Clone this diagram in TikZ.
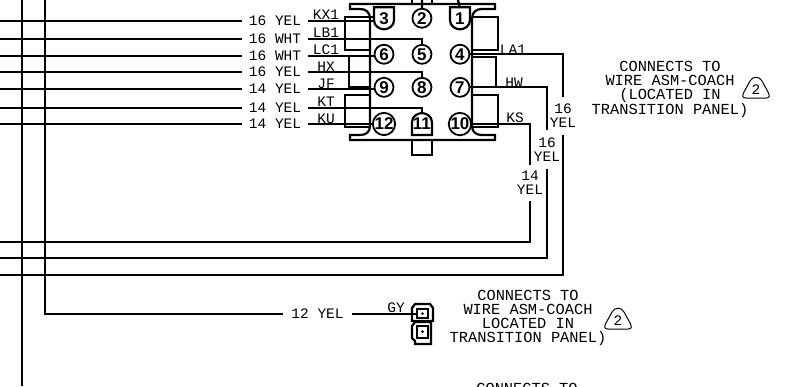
\documentclass[tikz,border=0pt]{standalone}
\usepackage{fontspec}
\setmainfont{Liberation Mono}
\newfontfamily\pinfont{Liberation Sans}
\usetikzlibrary{matrix}

\tikzset{
  wire/.style={line width=2pt},
  jumper/.style={line width=2.4pt},
  gauge/.style={inner sep=0pt, font=\fontsize{14.5}{14}\selectfont},
  wiretag/.style={inner sep=0pt, anchor=base, font=\fontsize{14.5}{14}\selectfont},
  note/.style={inner sep=0pt, align=center, font=\fontsize{15.35}{14}\selectfont},
  shell/.style={line width=2.2pt}
}

\begin{document}
\begin{tikzpicture}[x=1pt, y=-1pt]
\path[use as bounding box, clip] (0,0) rectangle (786,386);
\matrix (m) at (422,72) [matrix of nodes, inner sep=0pt, column sep=15.2pt,
  nodes={circle, draw, line width=1.8pt, minimum size=19pt, inner sep=0pt, font=\pinfont\bfseries\fontsize{17}{17}\selectfont}]{
|[draw=none]| 3 & 2 & |[draw=none]| 1 \\[15.2pt]
6 & 5 & 4 \\[12.2pt]
9 & 8 & 7 \\[14.2pt]
12 & |[draw=none]| 11 & 10 \\
};
% shells of the keyed pins
\draw[shell, shift={(m-1-1)}] (-10,-11) -- (10,-11) -- (10,2) .. controls (10,8) and (4,11) .. (0,11) .. controls (-4,11) and (-10,8) .. (-10,2) -- cycle;
\draw[shell, shift={(m-1-3)}] (-10,-11) -- (10,-11) -- (10,2) .. controls (10,8) and (4,11) .. (0,11) .. controls (-4,11) and (-10,8) .. (-10,2) -- cycle;
\draw[shell, shift={(m-4-2)}] (-10,11) -- (10,11) -- (10,-2) .. controls (10,-8) and (4,-11) .. (0,-11) .. controls (-4,-11) and (-10,-8) .. (-10,-2) -- cycle;
% connector body
\coordinate (bodyl) at (370,0);
\coordinate (bodyr) at (472,0);
\draw[shell] (412,0) -- (412,4) (432,0) -- (432,4);
\draw[shell] (422,0) -- (m-1-2.north);
\draw[shell] (458,0) -- (m-1-3.north);
\draw[shell] (360,135) .. controls (366,135) and (370,132) .. (370,126) -- (370,19) .. controls (370,12) and (366,9) .. (360,9) -- (350,9) -- (350,4) -- (495,4) -- (495,9) -- (482,9) .. controls (476,9) and (472,12) .. (472,19) -- (472,126) .. controls (472,132) and (476,135) .. (482,135) -- (495,135) -- (495,140) -- (350,140) -- (350,135) -- cycle;
\draw[shell] (412,140) -- (412,155) -- (432,155) -- (432,140);
% wires from the left
\foreach \n/\y/\txt in {1/21/16 YEL, 2/39/16 WHT, 3/56/16 WHT, 4/72/16 YEL, 5/89/14 YEL, 6/108/14 YEL, 7/124/14 YEL}{
  \coordinate (w\n) at (0,\y);
  \node[gauge, minimum width=66pt] (g\n) at (275,\y) {\txt};
  \draw[wire] (w\n) -- (g\n.west);
}
\draw[wire] (g1.east) -- (g1.east -| m-1-1.west);
\draw[wire] (g2.east) -| (m-2-2.north);
\draw[wire] (g3.east) -- (g3.east -| m-2-1.west);
\draw[wire] (g4.east) -| (m-3-2.north);
\draw[wire] (g5.east) -- (g5.east -| m-3-1.west);
\draw[wire] (g6.east) -| (m-4-2.north);
\draw[wire] (g7.east) -- (g7.east -| m-4-1.west);
\node[wiretag] (kx) at (326,19) {KX1};
\node[wiretag] (lb) at (326,37) {LB1};
\node[wiretag] (lc) at (326,54) {LC1};
\node[wiretag] (hx) at (326,71) {HX};
\node[wiretag] (jf) at (326,88) {JF};
\node[wiretag] (kt) at (326,106) {KT};
\node[wiretag] (ku) at (326,123) {KU};
% jumpers
\draw[jumper] (m-1-1.west |- 0,17) -- (345,17) -- (345,50) -- (bodyl |- 0,50);
\draw[jumper] (bodyl |- 0,56) -- (349,56) -- (349,87) -- (bodyl |- 0,87);
\draw[jumper] (bodyl |- 0,95) -- (345,95) -- (345,127) -- (bodyl |- 0,127);
\draw[jumper] (bodyr |- 0,17) -- (498,17) -- (498,50) -- (bodyr |- 0,50);
\draw[jumper] (bodyr |- 0,57) -- (496,57) -- (496,87) -- (bodyr |- 0,87);
\draw[jumper] (bodyr |- 0,95) -- (498,95) -- (498,127) -- (bodyr |- 0,127);
% wires to the right
\node[gauge, align=center, minimum height=38pt] (ga) at (563,116) {16\\YEL};
\node[gauge, align=center, minimum height=38pt] (gb) at (547,149.5) {16\\YEL};
\node[gauge, align=center, minimum height=36pt] (gc) at (530,183) {14\\YEL};
\coordinate (e1) at (0,275);
\coordinate (e2) at (0,258);
\coordinate (e3) at (0,242);
\draw[wire] (m-2-3.east) -| (ga.north);
\draw[wire] (m-3-3.east) -| (gb.north);
\draw[wire] (m-4-3.east) -| (gc.north);
\draw[wire] (ga.south) |- (e1);
\draw[wire] (gb.south) |- (e2);
\draw[wire] (gc.south) |- (e3);
\node[wiretag] (la) at (513,54) {LA1};
\node[wiretag] (hw) at (514,87) {HW};
\node[wiretag] (ks) at (515,122) {KS};
% trunk wires
\coordinate (ta) at (22,0);
\coordinate (tb) at (22,386);
\coordinate (tc) at (45,0);
\coordinate (td) at (45,314);
\draw[wire] (ta) -- (tb);
\node[gauge, minimum width=69pt] (gy) at (317.5,314) {12 YEL};
\node[draw, line width=2pt, minimum width=11pt, minimum height=9pt, inner sep=0pt] (cella) at (422.5,313.5) {};
\node[draw, line width=2pt, minimum width=11pt, minimum height=12pt, inner sep=0pt] (cellb) at (422.5,331.5) {};
\fill (cella) circle (1.5pt) (cellb) circle (1.5pt);
\draw[wire] (tc) -- (td) -- (gy.west);
\draw[wire] (gy.east) -- (gy.east -| cella.west);
\node[wiretag] (gytag) at (396,312) {GY};
\draw[shell] (412,308) -- (415,304) -- (430,304) -- (433,308) -- (433,321) -- (412,321) -- cycle;
\draw[shell] (415,322) -- (412,326) -- (412,338) -- (415,341) -- (415,344) -- (431,344) -- (431,322) -- cycle;
% notes
\node[note] (notea) at (670,89.5) {CONNECTS TO\\WIRE ASM-COACH\\(LOCATED IN\\TRANSITION PANEL)};
\node[note] (noteb) at (528,318) {CONNECTS TO\\WIRE ASM-COACH\\LOCATED IN\\TRANSITION PANEL)};
\node[note] (notec) at (527,388) {CONNECTS TO};
% revision triangles
\draw[line width=1pt] (746,98) .. controls (742,98) and (742,96) .. (744,92) -- (750,81) .. controls (753,76) and (759,76) .. (762,81) -- (768,92) .. controls (770,96) and (770,98) .. (766,98) -- cycle;
\node[inner sep=0pt, font=\fontsize{14.5}{14}\selectfont] (reva) at (756,90) {2};
\draw[line width=1pt] (608,329) .. controls (604,329) and (604,327) .. (606,323) -- (612,312) .. controls (615,307) and (621,307) .. (624,312) -- (630,323) .. controls (632,327) and (632,329) .. (628,329) -- cycle;
\node[inner sep=0pt, font=\fontsize{14.5}{14}\selectfont] (revb) at (618,321) {2};
\end{tikzpicture}
\end{document}
